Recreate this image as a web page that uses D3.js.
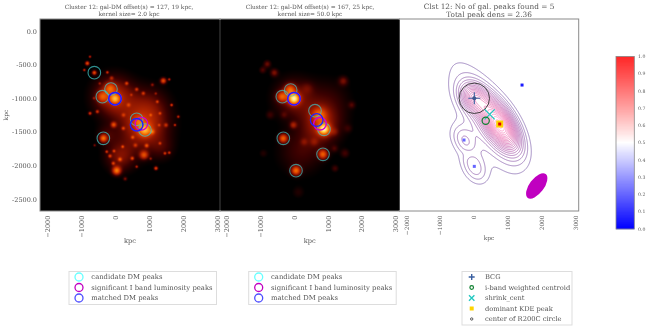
<!DOCTYPE html>
<html><head><meta charset="utf-8">
<script src="https://cdn.jsdelivr.net/npm/d3@7/dist/d3.min.js"></script>
<style>html,body{margin:0;padding:0;background:#fff}svg{display:block;filter:blur(.3px)}text{font-family:"DejaVu Serif",serif;fill:#555}</style>
</head><body><svg id="c" width="648" height="329"></svg>
<script>
// x, y (kpc), amplitude, sigma along x (kpc)
const clumpsFine = [
 [-29,-977,.30,400],[833,-1424,.32,480],[147,-1870,.20,300],[1000,-1100,.12,400],[-250,-1550,.10,200],[1400,-1750,.08,240],
 [-608,-620,.42,45],[-147,-853,.30,110],[-373,-977,.30,110],[0,-1007,.42,100],[882,-1473,.40,130],[686,-1350,.2,120],
 [-343,-1597,.45,75],[853,-1845,.38,85],[49,-2078,.50,85],
 [1422,-740,.42,60],[1597,-720,.28,30],[-814,-481,.42,45],[-735,-382,.28,30],[-902,-580,.30,30],[-225,-615,.30,30],
 [344,-779,.28,35],[638,-868,.25,35],[833,-927,.25,35],[1245,-1052,.25,30],[1666,-1101,.32,30],[1862,-1275,.28,30],[1764,-1399,.28,28],
 [1323,-1225,.22,30],[-39,-1394,.35,55],[-735,-1225,.32,35],[-520,-1200,.28,35],[245,-1448,.25,35],[-147,-1860,.28,35],[-29,-1786,.25,30],
 [226,-1721,.28,30],[520,-1582,.25,35],[509,-1895,.30,35],[931,-1706,.30,40],[1205,-2043,.38,40],[1470,-1820,.28,30],[1597,-1811,.28,30],
 [1323,-1671,.22,30],[147,-1910,.30,40],[638,-2019,.25,30],[-244,-1796,.28,30],[-50,-1969,.28,35],[400,-1100,.18,40],[250,-1250,.18,40],
 [1100,-800,.18,35],[1500,-1400,.22,40],[1100,-1500,.22,50],[600,-1700,.2,40],[300,-2200,.18,40],[-600,-1700,.18,30],[-100,-700,.2,40],
 [1050,-1250,.18,30],[1300,-1400,.18,30],[1200,-930,.15,28],[480,-950,.15,28],[-450,-780,.15,28],[-620,-1000,.15,28],[1050,-1900,.18,30]
];
const clumpsSmooth = [
 [0,-1000,.20,400],[800,-1400,.24,400],[200,-1800,.12,450],[1000,-1050,.10,450],[750,-1250,.32,150],
 [0,-1007,.70,115],[-118,-870,.36,110],[-360,-977,.38,105],[887,-1460,.68,120],[-320,-1597,.46,90],[858,-1835,.44,95],[59,-2078,.48,95],
 [-790,-491,.18,75],[-926,-580,.14,70],[-583,-620,.20,80],[1460,-744,.18,95],[-20,-1399,.22,70],[1710,-1101,.12,70],[1510,-1820,.12,90],
 [1215,-2045,.12,70],[-710,-1250,.10,80],[-910,-1820,.07,80],[400,-850,.08,120],[130,-2400,.07,120],
 [-300,-1250,.08,70],[1200,-1500,.10,80],[1600,-1450,.08,80],[600,-1650,.10,80],[300,-1650,.10,70],[1200,-1750,.10,70]
];
// x, y (kpc), amplitude, sigma x, sigma y (kpc), correlation
const kdeBlobs = [
 [340,-1280,.20,671,516,-.717],
 [780,-1390,.85,374,250,-.595],
 [18,-1001,.42,276,147,-.30],
 [-287,-1622,.18,270,160,-.35],
 [18,-2030,.18,270,165,-.35],
 [-135,-1820,-.04,170,60,-.10]
];
const xTicks = [-2000,-1000,0,1000,2000,3000];
const yTicks = [0,-500,-1000,-1500,-2000,-2500];
const candidateFine = [[-608,-620],[-118,-863],[-373,-977],[0,-1007],[637,-1314],[882,-1473],[-343,-1597]];
const matchedFine = [[0,-1007],[637,-1394]];
const luminosityFine = [[0,-1007],[775,-1380]];
const candidateSmooth = [[-98,-878],[-346,-977],[0,-1007],[621,-1186],[887,-1463],[-316,-1597],[858,-1835],[59,-2078]];
const matchedSmooth = [[0,-1007],[671,-1324]];
const luminositySmooth = [[0,-1007],[769,-1380]];
const bcg = [18,-1001];
const centroid = [355,-1335];
const shrinkCent = [473,-1240];
const kdePeak = [769,-1384];
const r200Center = [18,-1001];
const r200Radius = 450; // along x, kpc
const faintPeaks = [[-287,-1622],[18,-2014]];
const strongBlue = [[1430,-804]];
const bandwidthEllipse = {c:[1864,-2306],a:440,b:215,angle:-53};
const titles = [["Cluster 12: gal-DM offset(s) = 127, 19 kpc,","kernel size= 2.0 kpc"],
                ["Cluster 12: gal-DM offset(s) = 167, 25 kpc,","kernel size= 50.0 kpc"],
                ["Clst 12: No of gal. peaks found = 5","Total peak dens = 2.36"]];
const dmLegend = [["candidate DM peaks","cyan",.6],["significant I band luminosity peaks","#c000c0",1],["matched DM peaks","#2020ff",.8]];
const kdeLegend = ["BCG","i-band weighted centroid","shrink_cent","dominant KDE peak","center of R200C circle"];
const cbarTicks = [0,.1,.2,.3,.4,.5,.6,.7,.8,.9,1];

const svg = d3.select("#c");
const yS = d3.scaleLinear().domain([178.6,-2678]).range([19,211]);
const x1 = d3.scaleLinear().domain([-2206,3088]).range([40,220]);
const x2 = d3.scaleLinear().domain([-2189,3115]).range([220,399.3]);
const x3 = d3.scaleLinear().domain([-2195,3106]).range([399.5,578.7]);
const heat = d3.scaleLinear().domain([0,.1,.2,.35,.5,.65,.8,1])
  .range(["#000000","#3a0000","#801000","#c83000","#ee6000","#ffa020","#ffdc60","#ffffff"]).clamp(true);

function heatImage(xS, blobs){
  const [l,r]=xS.range(), [t,b]=yS.range();
  const w=Math.round(r-l), h=Math.round(b-t);
  const cv=document.createElement("canvas"); cv.width=w; cv.height=h;
  const ctx=cv.getContext("2d"), im=ctx.createImageData(w,h);
  const bl=blobs.map(d=>({u:xS(d[0]),v:yS(d[1]),a:d[2],s:Math.abs(xS(d[3])-xS(0))}));
  for(let j=0;j<h;j++)for(let i=0;i<w;i++){
    let f=0; const px=l+i+.5, py=t+j+.5;
    for(const q of bl){const du=px-q.u,dv=py-q.v; f+=q.a*Math.exp(-(du*du+dv*dv)/(2*q.s*q.s));}
    const c=d3.rgb(heat(Math.max(0,f-.02))), k=(i+j*w)*4;
    im.data[k]=c.r;im.data[k+1]=c.g;im.data[k+2]=c.b;im.data[k+3]=255;
  }
  ctx.putImageData(im,0,0);
  svg.append("image").attr("x",l).attr("y",t).attr("width",w).attr("height",h).attr("href",cv.toDataURL());
}
function axes(xS,fs,showY,labelY){
  const [l,r]=xS.range(), [t,b]=yS.range();
  const gx=svg.append("g").attr("transform",`translate(0,${b})`)
    .call(d3.axisBottom(xS).tickValues(xTicks).tickSize(0).tickFormat(d3.format("d")));
  gx.select(".domain").remove();
  gx.selectAll("text").attr("font-size",fs).attr("text-anchor","end").attr("dy",0).attr("y",0)
    .attr("transform",function(d){return `translate(${fs*.36},4.5) rotate(-90)`;}).style("fill","#555");
  if(showY){
    const gy=svg.append("g").attr("transform",`translate(${l},0)`)
      .call(d3.axisLeft(yS).tickValues(yTicks).tickSize(0).tickFormat(v=>v.toFixed(1)));
    gy.select(".domain").remove();
    gy.selectAll("text").attr("font-size",6.5).attr("x",-3).style("fill","#555");
    svg.append("text").attr("transform",`translate(8,115) rotate(-90)`).attr("text-anchor","middle").attr("font-size",6).text("kpc");
  }
  svg.append("text").attr("x",(l+r)/2).attr("y",labelY).attr("text-anchor","middle").attr("font-size",fs).text("kpc");
  svg.append("rect").attr("x",l).attr("y",t).attr("width",r-l).attr("height",b-t).attr("fill","none").attr("stroke","#8a8a8a").attr("stroke-width",1);
}
function rings(xS,pts,col,op,sw){
  svg.append("g").selectAll("circle").data(pts).join("circle").attr("cx",d=>xS(d[0])).attr("cy",d=>yS(d[1])).attr("r",6.3)
    .attr("fill","none").attr("stroke",col).attr("stroke-opacity",op).attr("stroke-width",sw);
}
heatImage(x1,clumpsFine); heatImage(x2,clumpsSmooth);
svg.append("rect").attr("x",399.5).attr("y",19).attr("width",179.2).attr("height",192).attr("fill","#fff");
rings(x1,candidateFine,"#40c0c0",.75,1.1); rings(x1,luminosityFine,"#d000d0",1,1.3); rings(x1,matchedFine,"#2020ff",1,1.5);
rings(x2,candidateSmooth,"#40c0c0",.7,1.1); rings(x2,luminositySmooth,"#d000d0",1,1.5); rings(x2,matchedSmooth,"#2020ff",1,1.3);

// KDE contours
(function(){
  const [l,r]=x3.range(),[t,b]=yS.range();
  const n=Math.round(r-l)*2,m=Math.round(b-t)*2, vals=new Float64Array(n*m);
  for(let j=0;j<m;j++){const Y=yS.invert(t+(j+.5)/2);for(let i=0;i<n;i++){const X=x3.invert(l+(i+.5)/2);let f=0;
    for(const [cx,cy,a,sx,sy,rho] of kdeBlobs){const dx=(X-cx)/sx,dy=(Y-cy)/sy;
      f+=a*Math.exp(-(dx*dx-2*rho*dx*dy+dy*dy)/(2*(1-rho*rho)));}
    vals[i+j*n]=f;}}
  const levels=d3.range(.06,1.0,.046);
  const col=d3.scaleLinear().domain([.06,.35,.7,1]).range(["#7a5aa8","#b050a8","#e860a8","#ff90c4"]);
  const path=d3.geoPath(d3.geoTransform({point(x,y){this.stream.point(l+x/2,t+y/2);}}));
  svg.append("g").selectAll("path").data(d3.contours().size([n,m]).thresholds(levels)(vals)).join("path")
    .attr("d",path).attr("fill","none").attr("stroke",d=>col(d.value)).attr("stroke-width",.7);
})();
// panel 3 markers
const g3=svg.append("g");
g3.append("ellipse").attr("rx",Math.abs(x3(bandwidthEllipse.a)-x3(0))).attr("ry",Math.abs(x3(bandwidthEllipse.b)-x3(0)))
  .attr("transform",`translate(${x3(bandwidthEllipse.c[0])},${yS(bandwidthEllipse.c[1])}) rotate(${bandwidthEllipse.angle})`).attr("fill","#c000c0");
g3.append("g").selectAll("rect").data(strongBlue).join("rect").attr("x",d=>x3(d[0])-1.5).attr("y",d=>yS(d[1])-1.5).attr("width",3).attr("height",3).attr("fill","#1a1aff");
g3.append("g").selectAll("rect").data(faintPeaks).join("rect").attr("x",d=>x3(d[0])-1.5).attr("y",d=>yS(d[1])-1.5).attr("width",3).attr("height",3).attr("fill","#6666ff");
g3.append("rect").attr("x",x3(kdePeak[0])-3.5).attr("y",yS(kdePeak[1])-3.5).attr("width",7).attr("height",7).attr("fill","#ffd400");
g3.append("rect").attr("x",x3(kdePeak[0])-1.5).attr("y",yS(kdePeak[1])-1.5).attr("width",3).attr("height",3).attr("fill","#e00000");
g3.append("circle").attr("cx",x3(r200Center[0])).attr("cy",yS(r200Center[1])).attr("r",Math.abs(x3(r200Radius)-x3(0))).attr("fill","none").attr("stroke","#333").attr("stroke-opacity",.9).attr("stroke-width",1);
function plus(g,cx,cy,s,c,w){g.append("path").attr("d",`M${cx-s},${cy}H${cx+s}M${cx},${cy-s}V${cy+s}`).attr("stroke",c).attr("stroke-width",w).attr("fill","none");}
function cross(g,cx,cy,s,c,w){g.append("path").attr("d",`M${cx-s},${cy-s}L${cx+s},${cy+s}M${cx-s},${cy+s}L${cx+s},${cy-s}`).attr("stroke",c).attr("stroke-width",w).attr("fill","none");}
plus(g3,x3(bcg[0]),yS(bcg[1]),6,"#3a5fa0",1.1);
g3.append("circle").attr("cx",x3(bcg[0])).attr("cy",yS(bcg[1])).attr("r",2).attr("fill","#3f5a90");
cross(g3,x3(shrinkCent[0]),yS(shrinkCent[1]),5,"#20c8c0",1.3);
g3.append("circle").attr("cx",x3(centroid[0])).attr("cy",yS(centroid[1])).attr("r",3.6).attr("fill","none").attr("stroke","#108030").attr("stroke-width",1.2);

axes(x1,6.6,true,243); axes(x2,6.6,false,243); axes(x3,5.8,false,240);
svg.append("line").attr("x1",220).attr("x2",220).attr("y1",20).attr("y2",210).attr("stroke","#222").attr("stroke-width",2);
svg.append("line").attr("x1",398.8).attr("x2",398.8).attr("y1",20).attr("y2",210).attr("stroke","#000").attr("stroke-width",1.4);

// titles
const titleX=[129,310,489];
titles.forEach((tt,i)=>tt.forEach((s,j)=>svg.append("text").attr("x",titleX[i]).attr("y",i<2?9+j*7:8.5+j*8).attr("text-anchor","middle").attr("font-size",i<2?5.9:7.35).text(s)));

// colorbar
const cbY=d3.scaleLinear().domain([0,1]).range([229,56.5]);
const bwr=d3.scaleLinear().domain([0,.5,1]).range(["#0000ff","#ffffff","#ff0000"]);
svg.append("g").selectAll("rect").data(d3.range(0,1,1/172)).join("rect").attr("x",616).attr("width",18.3)
  .attr("y",d=>cbY(d)-1).attr("height",1.2).attr("fill",d=>bwr(d));
svg.append("rect").attr("x",616).attr("y",56.5).attr("width",18.3).attr("height",172.5).attr("fill","none").attr("stroke","#888").attr("stroke-width",.8);
svg.append("g").selectAll("text").data(cbarTicks).join("text").attr("x",638).attr("y",d=>cbY(d)+1.7).attr("font-size",4.6).text(d=>d.toFixed(1));

// legends
function dmLeg(x0){
  svg.append("rect").attr("x",x0).attr("y",271.5).attr("width",147.5).attr("height",33).attr("fill","#fff").attr("stroke","#ddd").attr("stroke-width",1);
  dmLegend.forEach((d,i)=>{const y=277+i*10.5;
    svg.append("circle").attr("cx",x0+10).attr("cy",y).attr("r",4).attr("fill","none").attr("stroke",d[1]).attr("stroke-opacity",d[2]).attr("stroke-width",1.3);
    svg.append("text").attr("x",x0+22.3).attr("y",y+2.3).attr("font-size",6.85).text(d[0]);});
}
dmLeg(69); dmLeg(248.7);
svg.append("rect").attr("x",462).attr("y",271.5).attr("width",110).attr("height",53.5).attr("fill","#fff").attr("stroke","#ddd").attr("stroke-width",1);
const ly=i=>277+i*10.5, lm=471.7;
plus(svg,lm,ly(0),3,"#3a5fa0",1.4);
svg.append("circle").attr("cx",lm).attr("cy",ly(1)).attr("r",1.8).attr("fill","none").attr("stroke","#108030").attr("stroke-width",1.2);
cross(svg,lm,ly(2),2.7,"#20c8c0",1.3);
svg.append("rect").attr("x",lm-2).attr("y",ly(3)-2).attr("width",4).attr("height",4).attr("fill","#ffd400");
svg.append("circle").attr("cx",lm).attr("cy",ly(4)).attr("r",1.2).attr("fill","none").attr("stroke","#333").attr("stroke-width",.8);
kdeLegend.forEach((s,i)=>svg.append("text").attr("x",485).attr("y",ly(i)+2.3).attr("font-size",6.7).text(s));
</script></body></html>
